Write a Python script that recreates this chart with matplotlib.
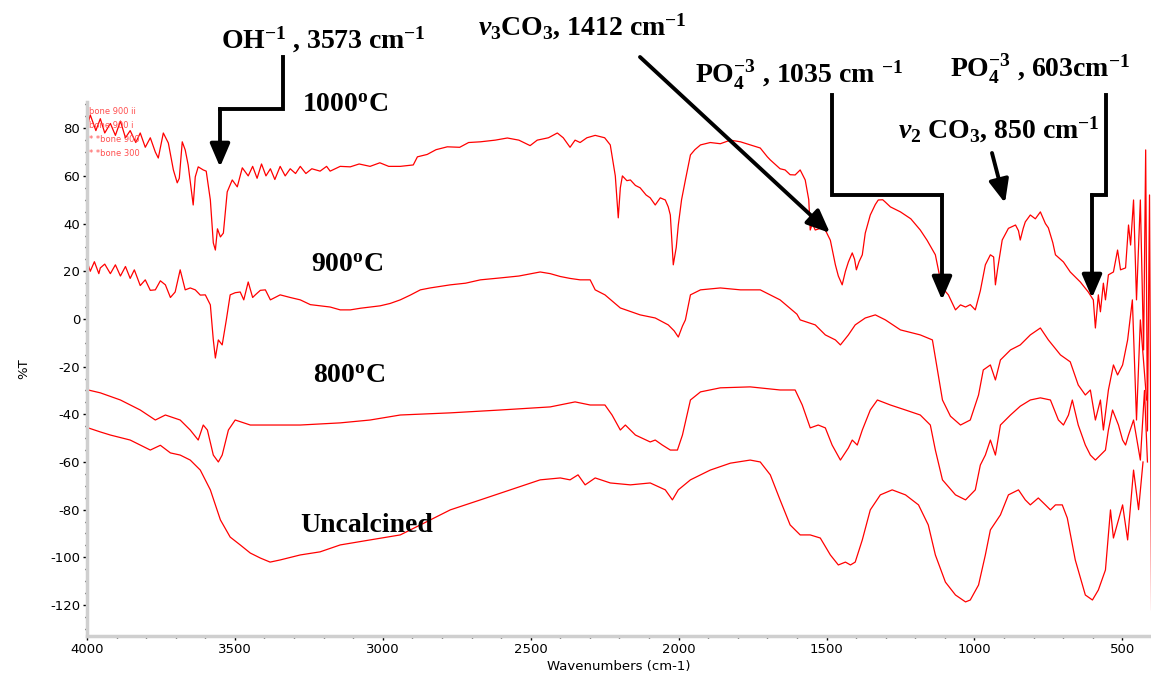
import matplotlib
matplotlib.use("Agg")
import matplotlib.pyplot as plt
from matplotlib.ticker import MultipleLocator
from matplotlib.patches import FancyArrowPatch
from matplotlib.lines import Line2D

# ---------------- spectra (wavenumber cm-1, %T) ----------------
wn_1000 = [3996, 3989, 3970, 3955, 3940, 3921, 3904, 3887, 3870, 3854, 3835, 3820, 3803, 3786,
           3769, 3759, 3742, 3725, 3708, 3695, 3688, 3678, 3668, 3658, 3641, 3634, 3624, 3607,
           3597, 3583, 3573, 3566, 3559, 3549, 3539, 3526, 3509, 3492, 3475, 3455, 3440, 3425,
           3410, 3395, 3380, 3365, 3347, 3330, 3313, 3295, 3279, 3260, 3240, 3212, 3190, 3178,
           3144, 3110, 3080, 3043, 3010, 2980, 2941, 2897, 2883, 2850, 2820, 2782, 2740, 2710,
           2670, 2620, 2579, 2540, 2502, 2478, 2440, 2410, 2390, 2367, 2350, 2333, 2310, 2282,
           2250, 2231, 2214, 2204, 2197, 2190, 2175, 2163, 2146, 2130, 2110, 2096, 2079, 2062,
           2045, 2035, 2028, 2018, 2008, 2001, 1990, 1977, 1960, 1945, 1926, 1893, 1859, 1825,
           1791, 1758, 1724, 1700, 1690, 1657, 1640, 1623, 1606, 1589, 1572, 1560, 1555, 1548,
           1538, 1521, 1504, 1487, 1470, 1460, 1447, 1436, 1426, 1413, 1405, 1399, 1390, 1379,
           1369, 1352, 1335, 1325, 1310, 1301, 1284, 1250, 1215, 1183, 1160, 1132, 1115, 1108,
           1088, 1064, 1047, 1030, 1014, 997, 980, 963, 946, 935, 929, 922, 906, 885, 861, 851,
           845, 835, 828, 811, 794, 777, 760, 750, 735, 726, 699, 676, 642, 615, 598, 591, 581,
           574, 564, 557, 547, 530, 516, 506, 489, 479, 472, 462, 452, 439, 428, 421, 415, 408, 401]
t_1000 = [82.2, 85.6, 79, 84, 78, 82, 77, 83, 76, 79, 74, 78, 72, 76,
          70, 67.5, 78.0, 73.8, 62.5, 57.1, 59, 74.3, 70.9, 64.6, 47.8, 59.6, 63.8, 62.5,
          62, 49.9, 31.9, 28.9, 37.8, 34.4, 36, 53.3, 58.3, 55.4, 63.4, 60, 64, 59,
          65, 60, 63, 58.5, 64, 60, 63, 61, 64, 61, 63, 62, 64, 62,
          64, 63.8, 65, 64, 65.5, 64, 64, 64.6, 68, 69, 71, 72.2, 72, 74,
          74.3, 75, 75.9, 75, 72.7, 75, 76, 78, 76, 72, 75, 74, 76, 77,
          76, 73, 60, 42.4, 55, 60, 58, 58.3, 56, 55, 52, 50.8, 47.8, 50.8,
          49.9, 47, 43.6, 22.7, 30, 39.4, 50, 58.3, 68.8, 71, 73, 74, 73.5, 75,
          74.3, 73, 71.7, 68, 66.7, 63, 62.5, 60.5, 60.4, 62.5, 58.3, 50, 37.3, 40,
          37.3, 38, 37.3, 33, 22.7, 18, 14.3, 20, 23.9, 27.7, 25, 20.6, 24, 26.9,
          36, 43.6, 48, 49.9, 50, 49, 47, 44.9, 42, 37.3, 33, 26.9, 16.4, 13,
          10.1, 3.8, 5.9, 5, 6, 3.8, 11.8, 22.7, 26.9, 26, 14.3, 20.6, 33.1, 38, 39.4, 37,
          33.1, 38, 40.7, 43.6, 42, 44.9, 40, 38.2, 32, 26.9, 23.9, 19.7, 15.5, 11.3, 8.0, -3.8, 10.1,
          3, 15, 8, 18.5, 19.7, 28.9, 20.6, 21.4, 39.4, 31, 49.9, 8, 49.9, -13, 70.9, -47, 52, -122]

wn_900 = [3996, 3989, 3975, 3960, 3955, 3940, 3921, 3904, 3887, 3870, 3854, 3840, 3820, 3803,
          3786, 3769, 3752, 3735, 3718, 3702, 3685, 3668, 3651, 3634, 3617, 3600, 3583, 3573,
          3566, 3556, 3543, 3529, 3516, 3499, 3482, 3470, 3455, 3440, 3431, 3414, 3397, 3380,
          3347, 3313, 3279, 3245, 3212, 3178, 3144, 3110, 3075, 3043, 3009, 2975, 2941, 2907,
          2873, 2840, 2772, 2720, 2670, 2603, 2540, 2468, 2434, 2400, 2367, 2333, 2299, 2282,
          2249, 2197, 2130, 2079, 2035, 2015, 2001, 1987, 1977, 1960, 1926, 1859, 1791, 1724,
          1657, 1600, 1589, 1538, 1504, 1470, 1453, 1426, 1403, 1369, 1335, 1301, 1250, 1183,
          1142, 1125, 1108, 1081, 1047, 1014, 986, 970, 946, 929, 912, 878, 845, 811, 777, 750,
          709, 676, 649, 625, 608, 591, 574, 564, 547, 530, 516, 499, 482, 466, 452, 439, 418]
t_900 = [22.7, 20, 24, 19, 21.4, 23, 19, 22.7, 18, 22, 17, 20.6, 14, 16.4,
         12, 12.2, 16, 14.3, 9, 11.3, 20.6, 12.2, 13, 12.2, 10, 10.1, 5.9, -8.8,
         -16.4, -8.8, -10.9, -0.4, 10.1, 11, 11.3, 8, 15.5, 9, 10.1, 12, 12.2, 8,
         10.1, 9, 8.0, 6, 5.5, 5.0, 3.8, 3.8, 4.5, 5.0, 5.5, 6.5, 8.0, 10,
         12.2, 13, 14.3, 15, 16.4, 17.2, 18, 19.7, 19, 17.8, 17, 16.4, 16.4, 12.2,
         10.1, 4.6, 1.7, 0.4, -2.5, -5, -7.6, -3, -0.4, 10.1, 12.2, 13.0, 12.2, 12.2,
         8.0, 2, -0.4, -2.5, -6.7, -8.8, -10.9, -6.7, -2.5, 0.4, 1.7, -0.4, -4.6, -6.7,
         -8.8, -21.4, -34.0, -40.8, -44.5, -42.4, -31.9, -21.4, -19.3, -25.6, -17.2, -13.0, -10.9, -6.7, -3.8, -8.8,
         -15.1, -18.0, -27.7, -31.9, -29.8, -42.4, -34.0, -46.6, -29.8, -19.3, -23.5, -19.3, -8.8, 8.0, -42.4, -0.4, -34.0]

wn_800 = [3996, 3955, 3887, 3820, 3769, 3735, 3685, 3651, 3624, 3607, 3593, 3573, 3556, 3543,
          3522, 3499, 3448, 3381, 3279, 3144, 3043, 2941, 2772, 2603, 2434, 2350, 2299, 2249,
          2225, 2197, 2180, 2146, 2096, 2079, 2055, 2028, 2004, 1987, 1960, 1926, 1859, 1758,
          1657, 1606, 1582, 1555, 1528, 1504, 1481, 1453, 1426, 1413, 1396, 1379, 1352, 1328,
          1284, 1233, 1183, 1149, 1132, 1108, 1064, 1030, 997, 980, 963, 946, 929, 912, 878,
          845, 811, 777, 743, 716, 699, 682, 669, 649, 625, 608, 591, 574, 557, 547, 533, 513,
          499, 489, 479, 462, 439, 425, 415]
t_800 = [-29.8, -31.0, -34.0, -38.2, -42.4, -40.3, -42.4, -46.6, -50.8, -44.5, -46.6, -57.1, -60.0, -57.1,
         -46.6, -42.4, -44.5, -44.5, -44.5, -43.6, -42.4, -40.3, -39.4, -38.2, -36.9, -34.8, -36.1, -36.1,
         -40.3, -46.6, -44.5, -48.7, -51.6, -50.8, -52.9, -55.0, -55.0, -48.7, -34.0, -30.6, -28.9, -28.5,
         -29.8, -29.8, -36.1, -45.7, -44.5, -45.7, -52.9, -59.2, -54.1, -50.8, -52.9, -46.6, -38.2, -34.0,
         -36.1, -38.2, -40.3, -44.5, -55.0, -67.5, -73.8, -75.9, -71.7, -61.3, -57.1, -50.8, -57.1, -44.5, -40.3,
         -36.6, -34.0, -33.1, -34.0, -42.4, -44.5, -40.3, -34.0, -44.5, -52.9, -57.1, -59.2, -57.1, -55.0, -46.6, -38.2, -44.5,
         -50.8, -52.9, -48.7, -42.4, -59.2, -30, -60]

wn_raw = [3996, 3955, 3921, 3854, 3786, 3752, 3718, 3685, 3651, 3617, 3583, 3549, 3516, 3482,
          3448, 3414, 3381, 3347, 3279, 3212, 3144, 3043, 2941, 2873, 2772, 2670, 2569, 2468,
          2400, 2367, 2340, 2316, 2282, 2231, 2163, 2096, 2045, 2021, 2001, 1960, 1893, 1825,
          1758, 1724, 1690, 1657, 1623, 1589, 1555, 1521, 1487, 1460, 1436, 1419, 1403, 1379,
          1352, 1318, 1278, 1233, 1189, 1156, 1132, 1098, 1064, 1030, 1014, 986, 963, 946, 912,
          885, 851, 828, 811, 784, 760, 743, 726, 703, 686, 659, 625, 601, 581, 557, 540, 530,
          513, 499, 482, 462, 445, 430]
t_raw = [-45.7, -47.4, -48.7, -50.8, -55.0, -53, -56.2, -57.1, -59.2, -63.4, -71.7, -84.3, -91.5, -94.8,
         -98.2, -100.3, -102.0, -101.1, -99.0, -97.7, -94.8, -92.7, -90.6, -86.4, -80.1, -75.9, -71.7, -67.5,
         -66.7, -67.5, -65.4, -69.6, -66.7, -68.8, -69.6, -68.8, -71.7, -75.9, -71.7, -67.5, -63.4, -60.5,
         -59.2, -60.0, -65.4, -75.9, -86.4, -90.6, -90.6, -91.9, -99.0, -103.2, -102.0, -103.2, -102.0, -92.7,
         -80.1, -73.8, -71.7, -73.8, -78.0, -86.4, -99.0, -110.4, -115.8, -118.7, -117.9, -111.6, -99.0, -88.5, -82.2,
         -73.8, -71.7, -75.9, -78.0, -75.1, -78.0, -80.1, -78.0, -78.0, -83.5, -101.1, -115.8, -117.9, -113.7, -105.3, -80.1, -91.9,
         -84.3, -78.0, -92.7, -63.4, -80, -60]

series = [(wn_1000, t_1000), (wn_900, t_900), (wn_800, t_800), (wn_raw, t_raw)]
legend_names = ["bone 900 ii", "bone 900 i", "* *bone 900", "* *bone 300"]

x_ticks = [4000, 3500, 3000, 2500, 2000, 1500, 1000, 500]
y_ticks = [-120, -100, -80, -60, -40, -20, 0, 20, 40, 60, 80]

# ---------------- figure ----------------
W, H = 1151, 679
plt.rcParams["axes.unicode_minus"] = False
plt.rcParams["mathtext.fontset"] = "custom"
plt.rcParams["mathtext.rm"] = "Liberation Serif:bold"
plt.rcParams["mathtext.bf"] = "Liberation Serif:bold"
plt.rcParams["mathtext.it"] = "Liberation Serif:italic:bold"

fig = plt.figure(figsize=(W / 100, H / 100), dpi=100)
ax = fig.add_axes([87 / W, 1 - 636 / H, 1 - 87 / W, (636 - 102) / H])

for wn, t in series:
    ax.plot(wn, t, color="#ff0000", lw=0.9)

ax.set_xlim(4000, 403)
ax.set_ylim(-133.0, 91.0)
ax.set_xticks(x_ticks)
ax.set_yticks(y_ticks)
ax.xaxis.set_minor_locator(MultipleLocator(100))
ax.yaxis.set_minor_locator(MultipleLocator(5))
for side in ("top", "right"):
    ax.spines[side].set_visible(False)
for side in ("left", "bottom"):
    ax.spines[side].set_color("#cfcfcf")
    ax.spines[side].set_linewidth(2.5)
ax.tick_params(which="major", direction="out", length=3, width=1, color="black",
               labelsize=9.5, pad=2)
ax.tick_params(which="minor", direction="out", length=1.5, width=1, color="black")
for lab in ax.get_xticklabels() + ax.get_yticklabels():
    lab.set_family("DejaVu Sans")
ax.set_xlabel("Wavenumbers (cm-1)", fontsize=9.5, family="DejaVu Sans", labelpad=3)
ax.set_ylabel("%T", fontsize=9.5, family="DejaVu Sans", labelpad=14)

# instrument legend in the upper left corner
for i, name in enumerate(legend_names):
    fig.text(89 / W, 1 - (111 + 14 * i) / H, name, fontsize=6, color="#ff5050",
             va="center", ha="left", family="DejaVu Sans")


def fxy(px, py):
    return (px / W, 1 - py / H)


def label(px, py, s):
    fig.text(px / W, 1 - py / H, s, fontsize=20, fontweight="bold",
             family="Liberation Serif", ha="left", va="baseline")


def arrow(points):
    pts = [fxy(*p) for p in points]
    if len(pts) > 2:
        xs = [p[0] for p in pts[:-1]]
        ys = [p[1] for p in pts[:-1]]
        fig.add_artist(Line2D(xs, ys, transform=fig.transFigure, color="black", lw=2.8,
                              solid_joinstyle="miter", solid_capstyle="projecting"))
    fig.add_artist(FancyArrowPatch(pts[-2], pts[-1], transform=fig.transFigure,
                                   arrowstyle="-|>,head_length=0.7,head_width=0.3",
                                   mutation_scale=20, lw=2.8, color="black",
                                   shrinkA=0, shrinkB=0))


label(221, 48, r"OH$^{-1}$ , 3573 cm$^{-1}$")
label(302, 112, r"1000$^{\mathrm{o}}$C")
label(311, 272, r"900$^{\mathrm{o}}$C")
label(313, 383, r"800$^{\mathrm{o}}$C")
label(300, 532, "Uncalcined")
label(478, 35, r"$\nu_3$CO$_3$, 1412 cm$^{-1}$")
label(695, 83, r"PO$_4^{-3}$ , 1035 cm $^{-1}$")
label(950, 77, r"PO$_4^{-3}$ , 603cm$^{-1}$")
label(898, 138, r"$\nu_2$ CO$_3$, 850 cm$^{-1}$")

arrow([(283, 57), (283, 109), (220, 109), (220, 167)])
arrow([(640, 57), (830, 233)])
arrow([(832, 95), (832, 195), (942, 195), (942, 300)])
arrow([(1106, 95), (1106, 195), (1092, 195), (1092, 298)])
arrow([(992, 153), (1005, 203)])

fig.savefig("out.png", dpi=100)
